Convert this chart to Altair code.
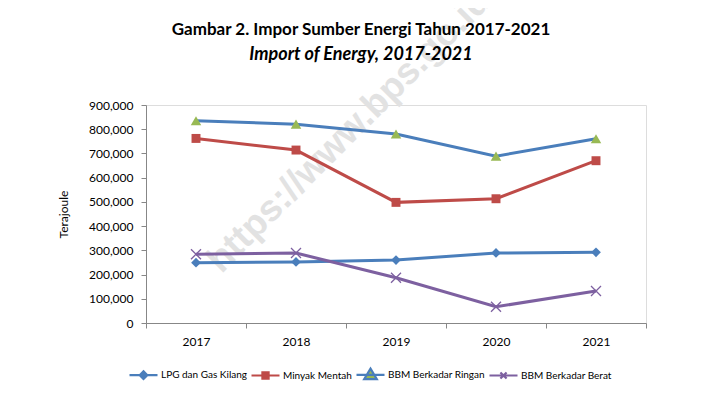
import altair as alt
import pandas as pd

years = ["2017", "2018", "2019", "2020", "2021"]
series = ["LPG dan Gas Kilang", "Minyak Mentah", "BBM Berkadar Ringan", "BBM Berkadar Berat"]
lpg = [249000, 252000, 260000, 289000, 292000]
minyak = [762000, 714000, 498000, 513000, 670000]
ringan = [835000, 821000, 780000, 689000, 761000]
berat = [284000, 289000, 187000, 67000, 132000]

line_colors = ["#4A7EBB", "#BE4B48", "#4A7EBB", "#7D60A0"]
marker_colors = ["#4A7EBB", "#BE4B48", "#98B954", "#7D60A0"]
marker_shapes = ["diamond", "square", "triangle-up", "M-1,-1L1,1M-1,1L1,-1"]
marker_sizes = [95, 80, 110, 100]
legend_paths = [
    "M-1,0L1,0M0,-0.27L0.27,0L0,0.27L-0.27,0Z",
    "M-1,0L1,0M-0.22,-0.22L0.22,-0.22L0.22,0.22L-0.22,0.22Z",
    "M-1,0L1,0M0,-0.45L0.45,0.3L-0.45,0.3Z",
    "M-1,0L1,0M-0.22,-0.22L0.22,0.22M-0.22,0.22L0.22,-0.22",
]

values = [lpg, minyak, ringan, berat]
rows = []
for s, vals in zip(series, values):
    for y, v in zip(years, vals):
        rows.append({"year": y, "series": s, "value": v})
df = pd.DataFrame(rows)

FONT = "Lato"

x_enc = alt.X(
    "year:N",
    scale=alt.Scale(type="band", domain=years, paddingInner=0, paddingOuter=0),
    axis=alt.Axis(
        title=None, tickBand="extent", labelAngle=0,
        labelFont=FONT, labelFontSize=12, labelColor="#000",
        labelPadding=8, tickSize=5, tickColor="#878787",
        domainColor="#878787", domainWidth=1, grid=False,
    ),
)
y_enc = alt.Y(
    "value:Q",
    scale=alt.Scale(domain=[0, 900000], nice=False),
    axis=alt.Axis(
        title="Terajoule", values=list(range(0, 900001, 100000)), format=",d",
        labelFont=FONT, labelFontSize=12, labelColor="#000",
        labelPadding=8, tickSize=5, tickColor="#878787",
        domainColor="#878787", domainWidth=1, grid=False,
        titleFont=FONT, titleFontSize=12, titleFontWeight="normal",
        titleColor="#000", titlePadding=18,
    ),
)

base = alt.Chart(df).encode(x=x_enc, y=y_enc)

watermark = alt.Chart(pd.DataFrame({"t": ["https://www.bps.go.id"]})).mark_text(
    angle=315, font="Liberation Sans", fontWeight="bold", fontSize=37,
    color="#e2e2e2", opacity=1, align="center", baseline="middle",
).encode(text="t:N", x=alt.value(203), y=alt.value(26))

layers = [watermark]
for s, lc in zip(series, line_colors):
    layers.append(
        base.transform_filter(alt.datum.series == s).mark_line(
            strokeWidth=3, color=lc
        )
    )
for s, mc, sh, sz in zip(series, marker_colors, marker_shapes, marker_sizes):
    if sh.startswith("M"):
        layers.append(
            base.transform_filter(alt.datum.series == s).mark_point(
                shape=sh, filled=False, size=sz, stroke=mc, strokeWidth=1.3, opacity=1
            )
        )
    else:
        layers.append(
            base.transform_filter(alt.datum.series == s).mark_point(
                shape=sh, filled=True, size=sz, fill=mc, opacity=1
            )
        )

leg_kwargs = dict(
    title=None, orient="none", legendX=-18, legendY=254, direction="horizontal",
    columns=4, symbolSize=784, symbolStrokeWidth=2.2,
    symbolOpacity=1, labelFont=FONT, labelFontSize=10, labelColor="#000",
    labelOffset=2, columnPadding=0,
)
legend_layer = base.mark_point(filled=True, opacity=0, strokeWidth=2.2).encode(
    fill=alt.Fill("series:N", scale=alt.Scale(domain=series, range=marker_colors),
                  legend=alt.Legend(**leg_kwargs)),
    stroke=alt.Stroke("series:N", scale=alt.Scale(domain=series, range=line_colors),
                      legend=alt.Legend(**leg_kwargs)),
    shape=alt.Shape("series:N", scale=alt.Scale(domain=series, range=legend_paths),
                    legend=alt.Legend(**leg_kwargs)),
)
layers.append(legend_layer)

chart = alt.layer(*layers).properties(
    width=500,
    height=218,
    title=alt.Title(
        text="Gambar 2. Impor Sumber Energi Tahun 2017-2021",
        subtitle="Import of Energy, 2017-2021",
        font=FONT, fontSize=17, fontWeight="bold", color="#000",
        subtitleFont=FONT, subtitleFontSize=18, subtitleFontWeight="bold",
        subtitleFontStyle="italic", subtitleColor="#000", subtitlePadding=7,
        anchor="middle", frame="bounds", offset=-83, dx=9,
    ),
    autosize=alt.AutoSizeParams(type="none"),
    padding={"left": 138, "top": 97, "right": 74, "bottom": 60},
).configure_view(stroke=None).configure(background="white")

chart.save("out.html", embed_options={"renderer": "svg", "actions": False})
